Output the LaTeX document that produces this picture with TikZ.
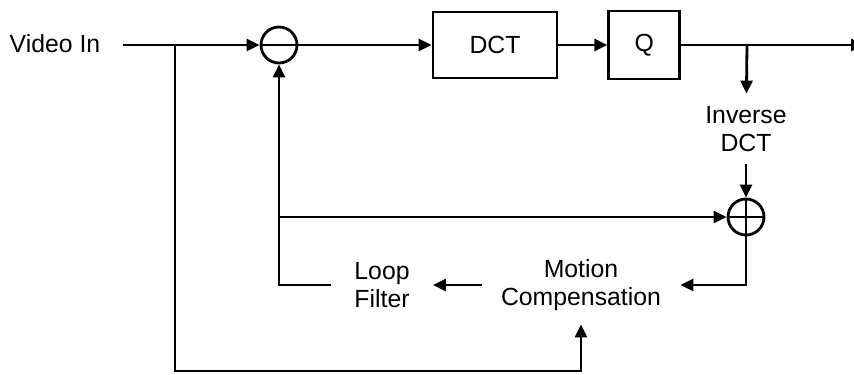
\documentclass[tikz,border=0pt]{standalone}
\usepackage{fontspec}
\setmainfont{Liberation Sans}
\usetikzlibrary{positioning,arrows.meta}

\begin{document}
\begin{tikzpicture}[
x=0.5pt,y=-0.5pt,
node distance=24.5pt,
line width=1.4pt,
every node/.style={
align=center,
font=\fontsize{12.4}{14}\selectfont,
inner sep=0pt
},
block/.style={draw,minimum width=62pt,minimum height=33pt},
summer/.style={draw,circle,minimum size=18pt},
minus/.style={path picture={
\draw[line width=1pt] (path picture bounding box.west)--(path picture bounding box.east);}},
plus/.style={path picture={
\draw[line width=1pt] (path picture bounding box.west)--(path picture bounding box.east);
\draw[line width=1pt] (path picture bounding box.north)--(path picture bounding box.south);}},
>={Triangle[length=6.5pt,width=6pt]}
]

\useasboundingbox (0,0) rectangle (854,374);

\node (vid) at (55,44) {Video In};
\coordinate (src) at (123,45);
\coordinate (fork) at (175,45);

\node[summer,minus] (sub) at (279,45) {};

\node[block] (dct) at (495,45) {DCT};

\node[block,minimum width=35.5pt,minimum height=34pt,right=of dct] (q) {Q};

\coordinate (tap) at (747,45);
\coordinate (out) at (864,45);

\node[minimum height=34pt] (idct) at (746,129) {Inverse\\DCT};

\node[summer,plus] (add) at (746,217) {};

\node[minimum height=38pt,inner xsep=9pt] (mc) at (581,285)
{Motion\\Compensation};

\node[minimum height=38pt,inner xsep=11pt] (lf) at (382,285)
{Loop\\Filter};

\coordinate (corner) at (175,371);

\draw[->] (src)--(sub);
\draw[->] (sub)--(dct);
\draw[->] (dct)--(q);
\draw[->] (q)--(out);
\draw[->] (tap)--(idct);
\draw[->] (idct)--(add);
\draw[->] (add)|-(mc);
\draw[->] (mc)--(lf);
\draw[->] (lf)-|(sub);
\draw[->] (sub |- add)--(add);
\draw[->] (fork)--(corner)-|(mc);

\end{tikzpicture}
\end{document}
